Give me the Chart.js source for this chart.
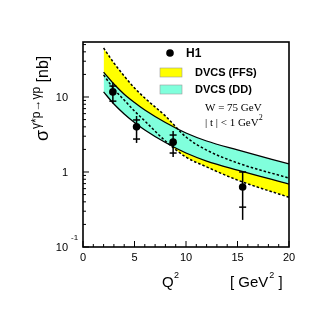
<!DOCTYPE html>
<html><head><meta charset="utf-8">
<script src="https://cdn.jsdelivr.net/npm/chart.js@4/dist/chart.umd.min.js"></script>
<style>html,body{margin:0;padding:0;background:#fff}#wrap{width:331px;height:311px}</style>
</head><body><div id="wrap"><canvas id="c"></canvas></div>
<script>
// Model curve grid (Q^2 in GeV^2)
const q2Grid  = [2, 3, 4, 5, 6, 8, 10, 12, 15, 20];
const ddUpper = [21.5, 14.9, 10.9, 8.45, 6.71, 4.57, 3.31, 2.59, 1.97, 1.28];
const ddLower = [11.7, 8.07, 5.94, 4.57, 3.63, 2.47, 1.79, 1.40, 1.06, 0.69];
const ffsUpper = [45, 28.4, 19.05, 13.2, 9.7, 5.58, 2.93, 1.96, 1.32, 0.83];
const ffsLower = [19.7, 12.8, 9.1, 6.5, 4.79, 2.59, 1.58, 1.17, 0.78, 0.46];
// H1 data
const h1Q2    = [2.9, 5.2, 8.75, 15.5];
const h1Sigma = [11.7, 4.0, 2.5, 0.63];
const statLow  = [8.8, 2.75, 1.79, 0.34];
const statHigh = [14.0, 4.94, 3.11, 1.0];
const totLow   = [8.2, 2.44, 1.58, 0.23];
const totHigh  = [15.6, 5.58, 3.52, 1.03];
// Axis ticks
const xMajor = [0, 5, 10, 15, 20];
const xMinor = [1,2,3,4,6,7,8,9,11,12,13,14,16,17,18,19];
const yMajor = [0.1, 1, 10];
const yMinor = [0.2,0.3,0.4,0.5,0.6,0.7,0.8,0.9,2,3,4,5,6,7,8,9,20,30,40,50];

const pts = (xs, ys) => xs.map((x, i) => ({x, y: ys[i]}));
const YEL = '#ffff00', CYAN = '#80ffdc';

const deco = {
  id: 'deco',
  afterDatasetsDraw(chart) {
    const ctx = chart.ctx, xs = chart.scales.x, ys = chart.scales.y;
    ctx.save();
    ctx.strokeStyle = '#000'; ctx.lineWidth = 1.5;
    h1Q2.forEach((q, i) => {
      const px = xs.getPixelForValue(q);
      ctx.beginPath();
      ctx.moveTo(px, ys.getPixelForValue(totHigh[i]));
      ctx.lineTo(px, ys.getPixelForValue(totLow[i]));
      ctx.stroke();
      [statLow[i], statHigh[i]].forEach(v => {
        const py = ys.getPixelForValue(v);
        ctx.beginPath(); ctx.moveTo(px - 3.5, py); ctx.lineTo(px + 3.5, py); ctx.stroke();
      });
    });
    ctx.restore();
  },
  afterDraw(chart) {
    const ctx = chart.ctx, xs = chart.scales.x, ys = chart.scales.y, a = chart.chartArea;
    ctx.save();
    ctx.strokeStyle = '#000';
    // ticks
    ctx.lineWidth = 1;
    xMajor.forEach(v => { const p = xs.getPixelForValue(v); ctx.beginPath(); ctx.moveTo(p, a.bottom); ctx.lineTo(p, a.bottom - 6); ctx.stroke(); });
    xMinor.forEach(v => { const p = xs.getPixelForValue(v); ctx.beginPath(); ctx.moveTo(p, a.bottom); ctx.lineTo(p, a.bottom - 3); ctx.stroke(); });
    yMajor.forEach(v => { const p = ys.getPixelForValue(v); ctx.beginPath(); ctx.moveTo(a.left, p); ctx.lineTo(a.left + 6, p); ctx.stroke(); });
    yMinor.forEach(v => { if (v > ys.max) return; const p = ys.getPixelForValue(v); ctx.beginPath(); ctx.moveTo(a.left, p); ctx.lineTo(a.left + 3, p); ctx.stroke(); });
    // frame
    ctx.lineWidth = 1.6;
    ctx.strokeRect(a.left, a.top, a.right - a.left, a.bottom - a.top);
    // tick labels
    ctx.fillStyle = '#000';
    ctx.font = '11px "Liberation Sans", Arial, sans-serif';
    ctx.textAlign = 'center'; ctx.textBaseline = 'middle';
    xMajor.forEach(v => ctx.fillText(String(v), xs.getPixelForValue(v), a.bottom + 11));
    const yl = {0.1: ['10', '-1'], 1: ['1', ''], 10: ['10', '']};
    yMajor.forEach(v => {
      const p = ys.getPixelForValue(v);
      ctx.font = '11px "Liberation Sans", Arial, sans-serif';
      ctx.textAlign = 'right';
      ctx.fillText(yl[v][0], 68, p + 1);
      if (yl[v][1]) { ctx.font = '8px "Liberation Sans", Arial, sans-serif'; ctx.textAlign = 'left'; ctx.fillText(yl[v][1], 71, p - 9); }
    });
    // x title
    ctx.textAlign = 'left'; ctx.textBaseline = 'alphabetic';
    ctx.font = '15px "Liberation Sans", Arial, sans-serif';
    ctx.fillText('Q', 162, 287);
    ctx.font = '9px "Liberation Sans", Arial, sans-serif';
    ctx.fillText('2', 174, 278);
    ctx.font = '15px "Liberation Sans", Arial, sans-serif';
    let x0 = 230;
    ctx.fillText('[ GeV', x0, 287); x0 += ctx.measureText('[ GeV').width;
    ctx.font = '9px "Liberation Sans", Arial, sans-serif';
    ctx.fillText('2', x0 + 1, 278); x0 += ctx.measureText('2').width + 1;
    ctx.font = '15px "Liberation Sans", Arial, sans-serif';
    ctx.fillText(' ]', x0, 287);
    // y title (rotated)
    ctx.save();
    ctx.translate(48, 141); ctx.rotate(-Math.PI / 2);
    let t = 0;
    ctx.font = '18px "Liberation Sans", Arial, sans-serif';
    ctx.fillText('σ', t, 0); t += ctx.measureText('σ').width + 1;
    ctx.font = '12px "Liberation Sans", Arial, sans-serif';
    ctx.fillText('γ*p→γp', t, -8); t += ctx.measureText('γ*p→γp').width;
    ctx.font = '16px "Liberation Sans", Arial, sans-serif';
    ctx.fillText(' [nb]', t, 0);
    ctx.restore();
    // legend
    ctx.beginPath(); ctx.arc(170, 53, 3.8, 0, Math.PI * 2); ctx.fill();
    ctx.font = 'bold 12px "Liberation Sans", Arial, sans-serif';
    ctx.textBaseline = 'middle';
    ctx.fillText('H1', 186, 54);
    ctx.lineWidth = 0.6; ctx.strokeStyle = '#999';
    ctx.fillStyle = YEL; ctx.fillRect(160, 68, 22, 9); ctx.strokeRect(160, 68, 22, 9);
    ctx.fillStyle = CYAN; ctx.fillRect(160, 85, 22, 9); ctx.strokeRect(160, 85, 22, 9);
    ctx.fillStyle = '#000';
    ctx.font = 'bold 11px "Liberation Sans", Arial, sans-serif';
    ctx.fillText('DVCS (FFS)', 195, 73);
    ctx.fillText('DVCS (DD)', 195, 90);
    ctx.font = '11px "Liberation Serif", "Times New Roman", serif';
    ctx.fillText('W = 75 GeV', 205, 108);
    const s = '| t | < 1 GeV';
    ctx.fillText(s, 205, 123);
    const w = ctx.measureText(s).width;
    ctx.font = '8px "Liberation Serif", "Times New Roman", serif';
    ctx.fillText('2', 205 + w, 118);
    ctx.restore();
  }
};

const lineBase = {borderColor: '#000', pointRadius: 0, cubicInterpolationMode: 'monotone'};
new Chart(document.getElementById('c'), {
  type: 'line',
  data: {
    datasets: [
      {label: 'H1', data: pts(h1Q2, h1Sigma), showLine: false, pointRadius: 3.8, pointBackgroundColor: '#000', pointBorderColor: '#000', borderWidth: 0},
      {...lineBase, label: 'DD up', data: pts(q2Grid, ddUpper), borderWidth: 1.3, fill: '+1', backgroundColor: CYAN},
      {...lineBase, label: 'DD low', data: pts(q2Grid, ddLower), borderWidth: 1.3, fill: false},
      {...lineBase, label: 'FFS up', data: pts(q2Grid, ffsUpper), borderWidth: 1.5, borderDash: [2.5, 2], fill: '+1', backgroundColor: YEL},
      {...lineBase, label: 'FFS low', data: pts(q2Grid, ffsLower), borderWidth: 1.5, borderDash: [2.5, 2], fill: false}
    ]
  },
  options: {
    responsive: true, maintainAspectRatio: false, animation: false,
    layout: {padding: {left: 83, right: 42, top: 42, bottom: 64}},
    scales: {
      x: {type: 'linear', min: 0, max: 20, display: false},
      y: {type: 'logarithmic', min: 0.1, max: 54.1, display: false}
    },
    plugins: {legend: {display: false}, tooltip: {enabled: false}, filler: {drawTime: 'beforeDatasetsDraw'}}
  },
  plugins: [deco]
});
</script></body></html>
